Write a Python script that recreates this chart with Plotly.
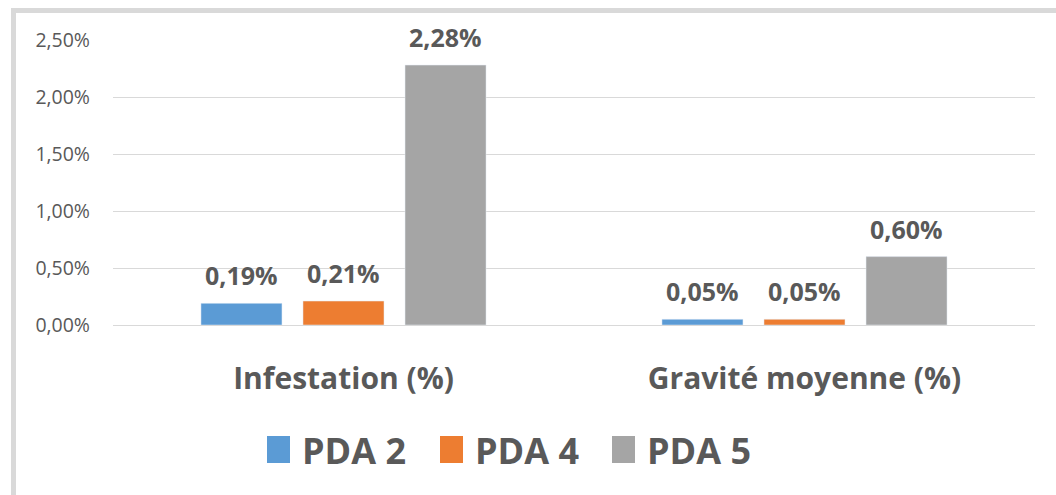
import plotly.graph_objects as go

categories = ["Infestation (%)", "Gravité moyenne (%)"]
series_names = ["PDA 2", "PDA 4", "PDA 5"]
pda2 = [0.0019, 0.0005]
pda4 = [0.0021, 0.0005]
pda5 = [0.0228, 0.0060]
colors = ["#5B9BD5", "#ED7D31", "#A5A5A5"]
y_ticks = [0, 0.005, 0.01, 0.015, 0.02, 0.025]

FONT = "Open Sans"
TXT = "#595959"

W, H = 1056, 495
L, R, T, B = 113, 21, 40, 170
PW, PH = W - L - R, H - T - B
BARGAP, BARGROUPGAP = 0.336, 0.206


def px(x):
    return (x - L) / PW


def py(y):
    return (H - B - y) / PH


def fmt(v):
    return f"{v * 100:.2f}%".replace(".", ",")


fig = go.Figure()
series = [pda2, pda4, pda5]
for name, vals, col in zip(series_names, series, colors):
    fig.add_trace(go.Bar(
        x=categories, y=vals, name=name, marker_color=col,
        showlegend=False, hoverinfo="x+y",
    ))

shapes = []
annotations = []

# data labels, anchored to data coordinates, shifted to each bar's slot
slot = PW / len(categories) * (1 - BARGAP) / len(series)
for i, vals in enumerate(series):
    for cat, v in zip(categories, vals):
        annotations.append(dict(
            x=cat, y=v, xref="x", yref="y", text=fmt(v), showarrow=False,
            xanchor="center", yanchor="middle",
            xshift=(i - (len(series) - 1) / 2) * slot, yshift=28,
            font=dict(family=FONT, size=25, color=TXT, weight="bold"),
        ))

# frame bands (left and top)
shapes.append(dict(type="rect", xref="paper", yref="paper", x0=px(11), x1=px(16),
                   y0=py(H), y1=py(8), fillcolor="#D9D9D9", line_width=0, layer="below"))
shapes.append(dict(type="rect", xref="paper", yref="paper", x0=px(11), x1=px(W),
                   y0=py(13), y1=py(8), fillcolor="#D9D9D9", line_width=0, layer="below"))

# manual legend
leg_sq_x = [267, 440, 612]
for name, col, sx in zip(series_names, colors, leg_sq_x):
    shapes.append(dict(type="rect", xref="paper", yref="paper", x0=px(sx), x1=px(sx + 23),
                       y0=py(463), y1=py(436), fillcolor=col, line_width=0))
    annotations.append(dict(xref="paper", yref="paper", x=px(sx + 33), y=py(450),
                            xanchor="left", yanchor="middle", showarrow=False, text=name,
                            font=dict(family=FONT, size=36, color=TXT, weight="bold")))

fig.update_layout(
    width=W, height=H,
    margin=dict(l=L, r=R, t=T, b=B),
    paper_bgcolor="white", plot_bgcolor="white",
    separators=",.",
    barmode="group", bargap=BARGAP, bargroupgap=BARGROUPGAP,
    showlegend=False,
    shapes=shapes, annotations=annotations,
    xaxis=dict(showgrid=False, showline=False, ticks="",
               tickfont=dict(family=FONT, size=30, color=TXT, weight="bold"),
               ticklabelstandoff=33),
    yaxis=dict(range=[0, 0.025], tickvals=y_ticks, tickformat=".2%",
               showgrid=True, gridcolor="#D9D9D9", gridwidth=1,
               zeroline=True, zerolinecolor="#D9D9D9", zerolinewidth=1,
               showline=False, ticks="",
               tickfont=dict(family=FONT, size=19.5, color=TXT),
               ticklabelstandoff=22),
)

fig.write_html("out.html", config={"displayModeBar": False},
               post_script="document.body.style.margin='0';")
